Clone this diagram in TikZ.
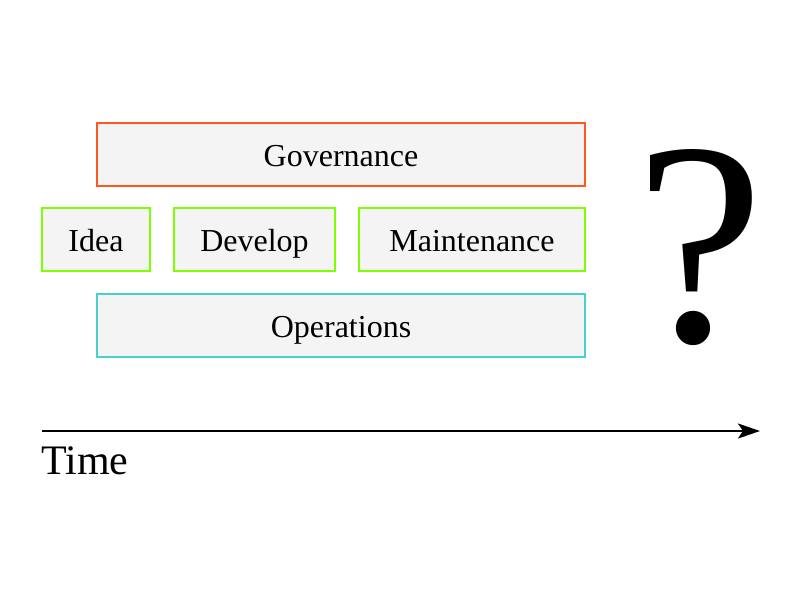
\documentclass[tikz,border=0pt]{standalone}
\usepackage{fontspec}
\setmainfont{Liberation Serif}
\usetikzlibrary{arrows.meta}

\definecolor{govred}{RGB}{255,87,34}
\definecolor{phasegreen}{RGB}{127,255,0}
\definecolor{opsteal}{RGB}{72,209,204}
\definecolor{boxfill}{RGB}{244,244,244}

\tikzset{
    phase/.style={draw=#1, fill=boxfill, line width=1.5pt, inner sep=0pt,
        text height=23pt, text depth=0pt, minimum height=63pt,
        font=\fontsize{32}{38}\selectfont},
}

\begin{document}
\begin{tikzpicture}[x=1pt, y=-1pt]
    \useasboundingbox (0,0) rectangle (800,600);
    \node[phase=govred, minimum width=488pt] (gov) at (341,154.5) {Governance};
    \node[phase=phasegreen, minimum width=108pt] (idea) at (96,239.5) {Idea};
    \node[phase=phasegreen, minimum width=161pt] (develop) at (254.5,239.5) {Develop};
    \node[phase=phasegreen, minimum width=226pt] (maint) at (472,239.5) {Maintenance};
    \node[phase=opsteal, minimum width=488pt] (ops) at (341,325.5) {Operations};
    \node[font=\fontsize{290}{290}\selectfont, inner sep=0pt] (qmark) at (700,248) {?};
    \coordinate (tstart) at (42,431);
    \coordinate (tend) at (760,431);
    \draw[line width=2.4pt, -{Stealth[length=22pt, width=15pt, inset=5pt]}] (tstart) -- (tend);
    \node[anchor=north west, inner sep=0pt, font=\fontsize{42}{50}\selectfont] (time) at (41,446) {Time};
\end{tikzpicture}
\end{document}
